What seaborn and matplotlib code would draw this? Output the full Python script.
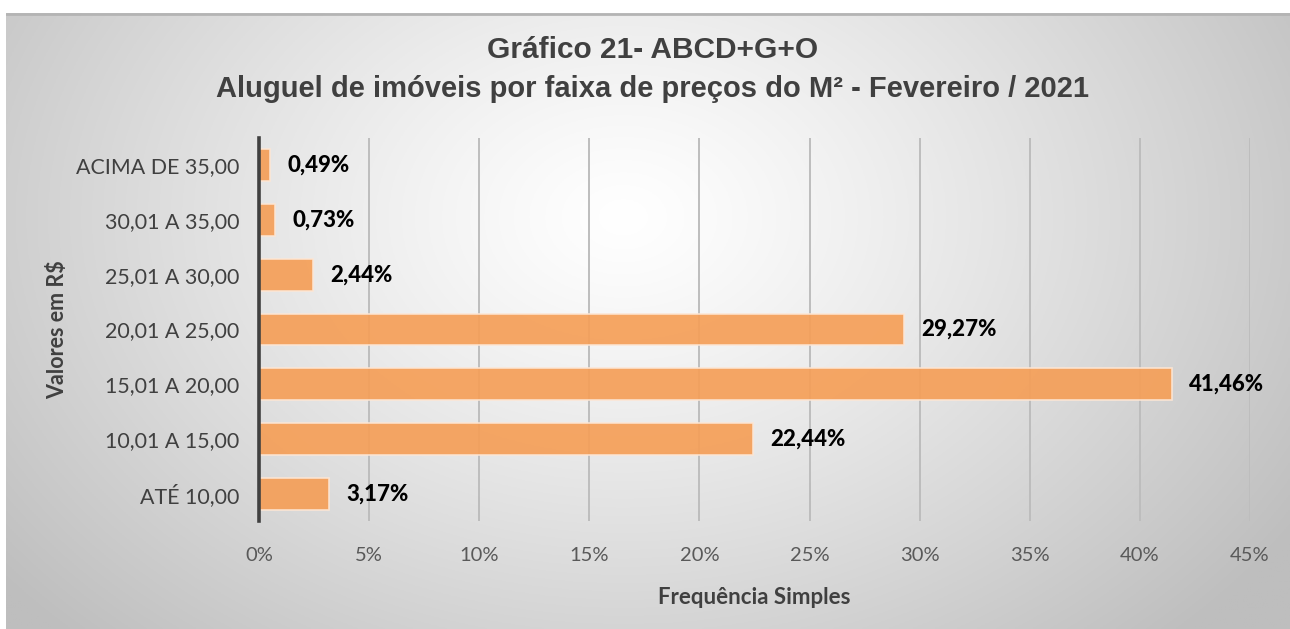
import numpy as np
import pandas as pd
import matplotlib
matplotlib.use("Agg")
import matplotlib.pyplot as plt
import seaborn as sns
from matplotlib.ticker import FuncFormatter

categories = ["ACIMA DE 35,00", "30,01 A 35,00", "25,01 A 30,00", "20,01 A 25,00",
              "15,01 A 20,00", "10,01 A 15,00", "ATÉ 10,00"]
values = [0.49, 0.73, 2.44, 29.27, 41.46, 22.44, 3.17]
value_labels = ["0,49%", "0,73%", "2,44%", "29,27%", "41,46%", "22,44%", "3,17%"]
x_ticks = [0, 5, 10, 15, 20, 25, 30, 35, 40, 45]

title1 = "Gráfico 21- ABCD+G+O"
title2 = "Aluguel de imóveis por faixa de preços do M² - Fevereiro / 2021"
xlabel = "Frequência Simples"
ylabel = "Valores em R$"

sns.set_theme(style="white")
plt.rcParams['font.family'] = ['Lato', 'DejaVu Sans']

W, H = 1290, 629
fig = plt.figure(figsize=(W / 100, H / 100), dpi=100)
fig.patch.set_facecolor("white")

# radial gradient background for chart area
bg = fig.add_axes([6 / W, 0, 1 - 6 / W, (H - 13) / H])
bg.set_axis_off()
ny, nx = 300, 640
yy, xx = np.mgrid[0:ny, 0:nx]
cx, cy = nx * 0.48, ny * 0.33
r = np.sqrt(((xx - cx) / (nx * 0.62)) ** 2 + ((yy - cy) / (ny * 0.95)) ** 2)
r = np.clip(r, 0, 1)
lo, hi = 190 / 255, 1.0
g = hi - (hi - lo) * r ** 1.2
img = np.dstack([g, g, g])
bg.imshow(img, aspect="auto", extent=[0, 1, 0, 1], origin="upper")
bg.set_xlim(0, 1)
bg.set_ylim(0, 1)
bg.axhline(0.998, color="#b4b4b4", lw=2)

left, right = 259 / W, 1250 / W
bottom, top = (H - 521) / H, (H - 138) / H
ax = fig.add_axes([left, bottom, right - left, top - bottom])
ax.set_facecolor("none")

df = pd.DataFrame({"cat": categories, "pct": values})
sns.barplot(data=df, x="pct", y="cat", order=categories, orient="h",
            color="#F59F58", saturation=1, alpha=0.92, width=0.58, ax=ax,
            edgecolor="#fde6d4", linewidth=1.2)

ax.set_xlim(0, 45)
ax.set_xticks(x_ticks)
ax.xaxis.set_major_formatter(FuncFormatter(lambda v, p: f"{int(v)}%"))
ax.set_axisbelow(True)
ax.grid(axis="x", color="#bdbdbd", lw=1.4)
ax.grid(axis="y", visible=False)
for s in ["top", "right", "bottom"]:
    ax.spines[s].set_visible(False)
ax.spines["left"].set_color("#404040")
ax.spines["left"].set_linewidth(2.6)
ax.spines["left"].set_zorder(5)
ax.tick_params(axis="both", length=0)
ax.tick_params(axis="x", labelsize=14.5, labelcolor="#595959", pad=19)
ax.tick_params(axis="y", labelsize=15.4, labelcolor="#404040", pad=14)

ax.set_xlabel(xlabel, fontsize=16, fontweight="bold", color="#404040", labelpad=16)
ax.set_ylabel(ylabel, fontsize=15.5, fontweight="bold", color="#404040", labelpad=6)

for i, (v, lab) in enumerate(zip(values, value_labels)):
    ax.annotate(lab, xy=(v, i), xytext=(12.5, 0), textcoords="offset points",
                ha="left", va="center", fontsize=16, fontweight="black", color="black")

fig.text(653 / W, 1 - 50 / H, title1, ha="center", va="center", fontsize=21.5,
         fontweight="bold", color="#404040", family=['Liberation Sans', 'DejaVu Sans'])
fig.text(652 / W, 1 - 89 / H, title2, ha="center", va="center", fontsize=21,
         fontweight="bold", color="#404040", family=['Liberation Sans', 'DejaVu Sans'])

fig.savefig("out.png", dpi=100)
